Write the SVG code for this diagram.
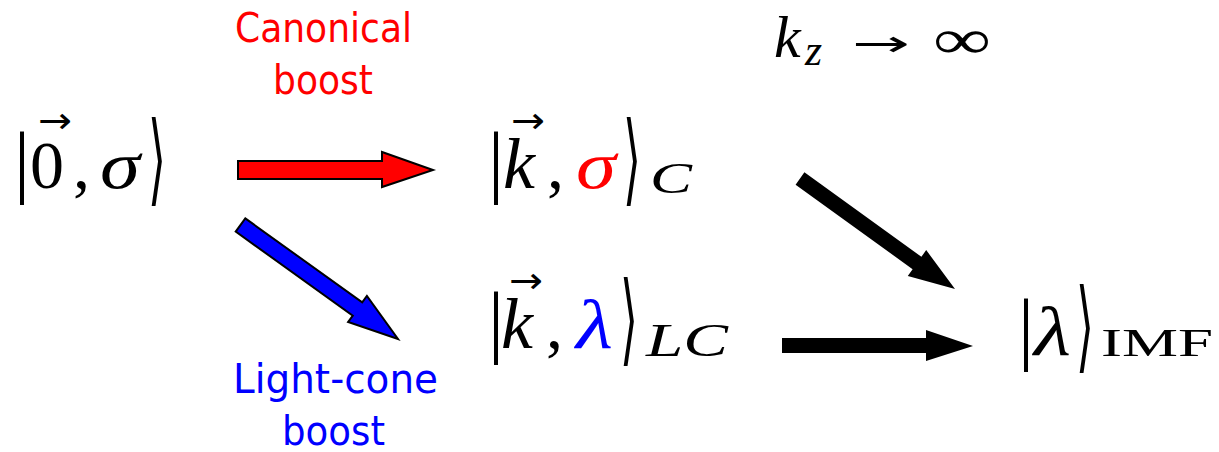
<svg xmlns="http://www.w3.org/2000/svg" width="1219" height="452" viewBox="0 0 1219 452">
<style>
.m{font-family:"Liberation Serif","DejaVu Serif",serif;fill:#000}
.i{font-style:italic}
.red{fill:#ff0000}
.blue{fill:#0000ff}
.bar{font-size:80px}
.ang{font-family:"DejaVu Serif",serif;font-size:100px}
.vec{font-family:"DejaVu Sans",sans-serif;font-size:36px;fill:#000}
.lbl{font-family:"DejaVu Sans","Liberation Sans",sans-serif;font-size:40px}
.conn{stroke:#000;stroke-width:2;stroke-linejoin:miter}
</style>
<rect width="1219" height="452" fill="#fff"/>
<g id="connectors">
<polygon class="conn" fill="#ff0000" points="238,161 382,161 382,152 433,170 382,187 382,179 238,179"/>
<polygon class="conn" fill="#0000ff" points="245.3,218.4 362.2,302.4 366.9,296 398,339 348.1,322 352.8,315.6 235.7,231.6"/>
<polygon fill="#000" points="804.4,172.3 921.4,256.8 926.2,250.1 955,289 907.8,275.9 912.6,269.2 795.6,184.7"/>
<polygon fill="#000" points="782,338 926,338 926,330 973,346 926,361 926,353 782,353"/>
</g>
<g id="label-canonical">
<text class="lbl red" x="235" y="42" textLength="177" lengthAdjust="spacingAndGlyphs">Canonical</text>
<text class="lbl red" x="273" y="94" textLength="100" lengthAdjust="spacingAndGlyphs">boost</text>
</g>
<g id="label-lightcone">
<text class="lbl blue" x="233" y="393" textLength="205" lengthAdjust="spacingAndGlyphs">Light-cone</text>
<text class="lbl blue" x="282" y="445" textLength="103" lengthAdjust="spacingAndGlyphs">boost</text>
</g>
<g id="node-rest">
<text class="m bar" x="14" y="188">|</text>
<text class="m" x="30" y="188" font-size="68">0</text>
<text class="vec" x="38" y="133" textLength="34" lengthAdjust="spacingAndGlyphs">→</text>
<text class="m" x="73" y="188" font-size="68">,</text>
<text class="m i" x="100" y="188" font-size="68" textLength="40" lengthAdjust="spacingAndGlyphs">σ</text>
<text class="m ang" x="148" y="193" textLength="18" lengthAdjust="spacingAndGlyphs">⟩</text>
</g>
<g id="node-canonical">
<text class="m bar" x="488" y="188">|</text>
<text class="m i" x="503" y="188" font-size="72">k</text>
<text class="vec" x="511" y="133" textLength="34" lengthAdjust="spacingAndGlyphs">→</text>
<text class="m" x="547" y="188" font-size="68">,</text>
<text class="m i red" x="576" y="188" font-size="68" textLength="40" lengthAdjust="spacingAndGlyphs">σ</text>
<text class="m ang" x="623" y="193" textLength="18" lengthAdjust="spacingAndGlyphs">⟩</text>
<text class="m i" x="650" y="193" font-size="44" textLength="42" lengthAdjust="spacingAndGlyphs">C</text>
</g>
<g id="node-lightcone">
<text class="m bar" x="488" y="348">|</text>
<text class="m i" x="501" y="348" font-size="72">k</text>
<text class="vec" x="509" y="293" textLength="34" lengthAdjust="spacingAndGlyphs">→</text>
<text class="m" x="546" y="348" font-size="68">,</text>
<text class="m i blue" x="576" y="348" font-size="70" textLength="37" lengthAdjust="spacingAndGlyphs">λ</text>
<text class="m ang" x="620" y="353" textLength="18" lengthAdjust="spacingAndGlyphs">⟩</text>
<text class="m i" x="646" y="356" font-size="46" textLength="82" lengthAdjust="spacingAndGlyphs">LC</text>
</g>
<g id="node-imf">
<text class="m bar" x="1018" y="355">|</text>
<text class="m i" x="1034" y="355" font-size="70" textLength="37" lengthAdjust="spacingAndGlyphs">λ</text>
<text class="m ang" x="1076" y="360" textLength="18" lengthAdjust="spacingAndGlyphs">⟩</text>
<text class="m" x="1101" y="356" font-size="40" textLength="112" lengthAdjust="spacingAndGlyphs">IMF</text>
</g>
<g id="label-limit">
<text class="m i" x="774" y="57" font-size="60">k</text>
<text class="m i" x="805" y="65" font-size="44">z</text>
<text class="vec" x="852" y="56" font-size="46" textLength="58" lengthAdjust="spacingAndGlyphs">→</text>
<text class="m" x="933" y="58" font-size="56" textLength="58" lengthAdjust="spacingAndGlyphs">∞</text>
</g>
</svg>
